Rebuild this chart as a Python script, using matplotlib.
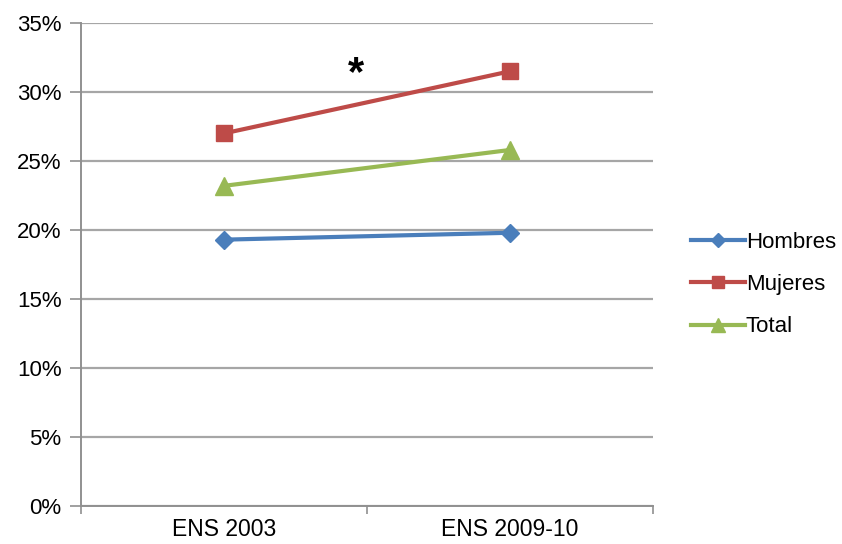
import matplotlib.pyplot as plt
from matplotlib.ticker import FuncFormatter

plt.rcParams['font.family'] = ['Liberation Sans', 'DejaVu Sans']

surveys = ["ENS 2003", "ENS 2009-10"]
hombres = [19.3, 19.8]
mujeres = [27.0, 31.5]
total = [23.2, 25.8]

fig = plt.figure(figsize=(8.42, 5.44), dpi=100)
ax = fig.add_axes([0.0962, 0.0699, 0.6793, 0.8878])

x = [0.5, 1.5]
ax.plot(x, hombres, color="#4a7ebb", lw=3, marker="D", ms=9, label="Hombres")
ax.plot(x, mujeres, color="#be4b48", lw=3, marker="s", ms=12, label="Mujeres")
ax.plot(x, total, color="#98b954", lw=3, marker="^", ms=13, label="Total")

# significance mark between the two surveys
ax.text(0.96, 31.3, "*", fontsize=30, fontweight="bold", ha="center", va="center")

ax.set_xlim(0, 2)
ax.set_ylim(0, 35)
ax.set_yticks(range(0, 36, 5))
ax.yaxis.set_major_formatter(FuncFormatter(lambda v, p: f"{v:.0f}%"))
ax.set_xticks([0, 1, 2])
ax.set_xticklabels([])
ax.set_xticks(x, minor=True)
ax.set_xticklabels(surveys, minor=True)
ax.tick_params(axis="x", which="minor", length=0, labelsize=16.5, pad=9)
ax.tick_params(axis="x", which="major", length=6, width=1.2, color="#909090", direction="out")
ax.tick_params(axis="y", length=8, width=1.2, color="#909090", labelsize=16, pad=6)

ax.grid(axis="y", color="#a6a6a6", lw=1.6)
ax.set_axisbelow(True)
for s in ["top", "right"]:
    ax.spines[s].set_visible(False)
for s in ["left", "bottom"]:
    ax.spines[s].set_color("#909090")
    ax.spines[s].set_linewidth(1.4)

ax.legend(loc="center left", bbox_to_anchor=(1.032, 0.458), frameon=False,
          fontsize=16, handlelength=2.4, handletextpad=0.05, labelspacing=0.95,
          markerscale=0.75)

fig.savefig("out.png", dpi=100)
